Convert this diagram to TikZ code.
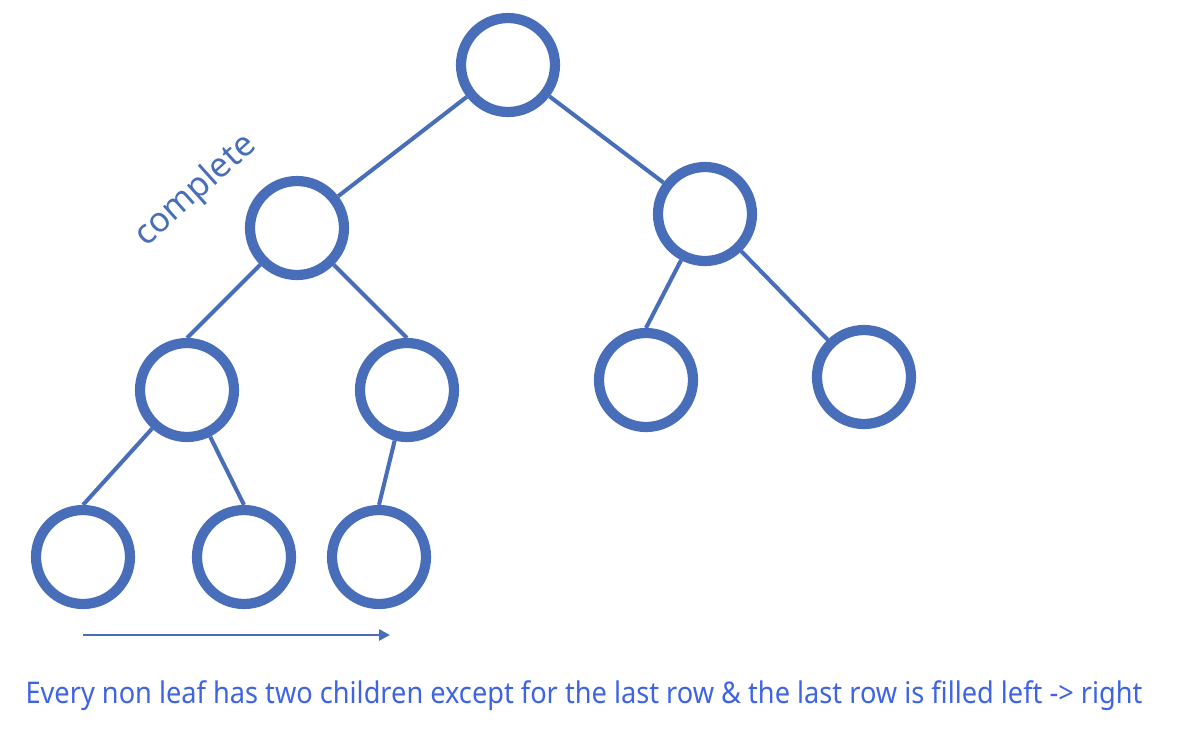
\documentclass[tikz,border=0pt]{standalone}
\usepackage{fontspec}
\setmainfont{Noto Sans}
\usetikzlibrary{arrows.meta}
\definecolor{treeblue}{RGB}{72,110,186}
\definecolor{textblue}{RGB}{62,100,228}

\begin{document}
\begin{tikzpicture}[x=0.02cm, y=-0.02cm,
  vertex/.style={circle, draw=treeblue, line width=5.8pt, minimum size=1.88cm, inner sep=0pt},
  edge/.style={draw=treeblue, line width=2.3pt},
  arr/.style={-{Triangle[length=2.2mm, width=2.2mm]}, draw=treeblue, line width=1.5pt}]
\useasboundingbox (0,0) rectangle (1178,752);
% tree, top to bottom
\node[vertex] (root) at (508,65) {};
\node[vertex] (lft) at (297,228) {};
\node[vertex] (rgt) at (705,214) {};
\node[vertex] (lla) at (187,390) {};
\node[vertex] (llb) at (407,390) {};
\node[vertex] (lrc) at (646,380) {};
\node[vertex] (lrd) at (864,377) {};
\node[vertex] (la) at (83,557) {};
\node[vertex] (lb) at (244,557) {};
\node[vertex] (lc) at (379,557) {};
\foreach \a/\b in {root/lft, root/rgt, rgt/lrd} \draw[edge] (\a) -- (\b);
\foreach \a/\b in {lft/lla, lft/llb, rgt/lrc, lla/la, lla/lb, llb/lc} \draw[edge] (\a) -- (\b.north);
% fill order of the last row
\coordinate (fillstart) at (83,635);
\coordinate (fillend) at (390,635);
\draw[arr] (fillstart) -- (fillend);
\node[text=treeblue, font=\fontsize{19.5}{24}\selectfont, rotate=42] (lbl) at (196,191) {complete};
\node[text=textblue, font=\fontsize{17}{20}\selectfont, anchor=base, xscale=0.91, transform shape] (note) at (584,703) {Every non leaf has two children except for the last row \& the last row is filled left -> right};
\end{tikzpicture}
\end{document}
